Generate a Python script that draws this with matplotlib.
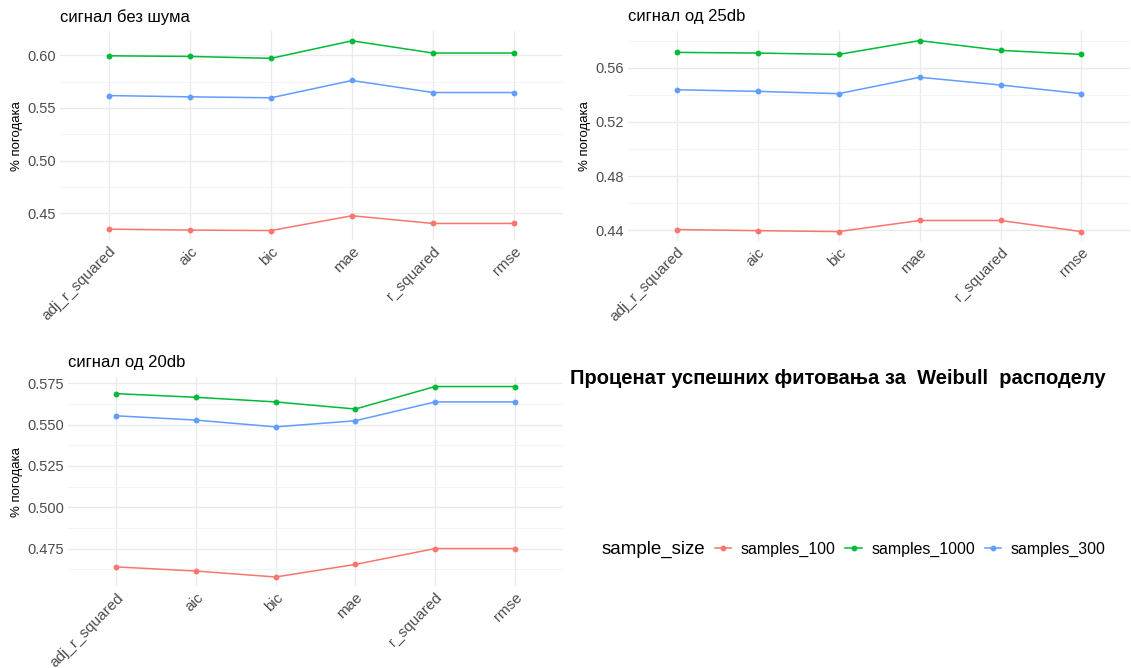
import numpy as np
import matplotlib
matplotlib.use('Agg')
import matplotlib.pyplot as plt
from matplotlib.lines import Line2D
from matplotlib.ticker import MultipleLocator

plt.rcParams['font.family'] = ['Liberation Sans', 'DejaVu Sans']

metrics = ['adj_r_squared', 'aic', 'bic', 'mae', 'r_squared', 'rmse']
series_names = ['samples_100', 'samples_1000', 'samples_300']
colors = ['#F8766D', '#00BA38', '#619CFF']

# сигнал без шума
clean_100 = [0.4351, 0.4342, 0.4338, 0.4478, 0.4405, 0.4405]
clean_1000 = [0.5994, 0.5988, 0.5970, 0.6136, 0.6020, 0.6020]
clean_300 = [0.5617, 0.5605, 0.5596, 0.5760, 0.5646, 0.5646]

# сигнал од 25db
db25_100 = [0.4405, 0.4397, 0.4390, 0.4472, 0.4472, 0.4390]
db25_1000 = [0.5714, 0.5709, 0.5699, 0.5801, 0.5729, 0.5699]
db25_300 = [0.5438, 0.5426, 0.5409, 0.5530, 0.5473, 0.5409]

# сигнал од 20db
db20_100 = [0.4639, 0.4614, 0.4578, 0.4654, 0.4750, 0.4750]
db20_1000 = [0.5687, 0.5665, 0.5637, 0.5594, 0.5730, 0.5730]
db20_300 = [0.5553, 0.5527, 0.5486, 0.5523, 0.5637, 0.5637]

panels = [
    ('сигнал без шума', [clean_100, clean_1000, clean_300], 0.05, '%.2f',
     [0.0534, 0.6407, 0.4440, 0.3124]),
    ('сигнал од 25db', [db25_100, db25_1000, db25_300], 0.04, '%.2f',
     [0.5555, 0.6390, 0.4436, 0.3145]),
    ('сигнал од 20db', [db20_100, db20_1000, db20_300], 0.025, '%.3f',
     [0.0604, 0.1220, 0.4371, 0.3136]),
]

fig = plt.figure(figsize=(11.31, 6.68), dpi=100)

for title, data, step, fmt, pos in panels:
    ax = fig.add_axes(pos)
    x = np.arange(len(metrics))
    for vals, c in zip(data, colors):
        ax.plot(x, vals, color=c, lw=1.1, marker='o', ms=3.2, zorder=3)
    allv = np.concatenate(data)
    lo, hi = allv.min(), allv.max()
    pad = (hi - lo) * 0.05
    ax.set_ylim(lo - pad, hi + pad)
    ax.set_xlim(-0.6, len(metrics) - 0.4)
    ax.yaxis.set_major_locator(MultipleLocator(step))
    ax.yaxis.set_minor_locator(MultipleLocator(step / 2))
    ax.yaxis.set_major_formatter(plt.FormatStrFormatter(fmt))
    ax.set_xticks(x)
    ax.set_xticklabels(metrics, rotation=45, ha='right', rotation_mode='anchor')
    ax.grid(which='major', color='#EBEBEB', lw=1.0)
    ax.grid(which='minor', axis='y', color='#F2F2F2', lw=0.6)
    ax.set_axisbelow(True)
    for s in ax.spines.values():
        s.set_visible(False)
    ax.tick_params(which='both', length=0, labelsize=10.5, labelcolor='#4D4D4D', pad=3)
    ax.tick_params(axis='x', labelsize=11)
    ax.set_ylabel('% погодака', fontsize=9.5, labelpad=3)
    ax.set_title(title, loc='left', fontsize=12, pad=7)

fig.text(0.5040, 0.434, 'Проценат успешних фитовања за  Weibull  расподелу',
         fontsize=14.5, fontweight='bold', va='center', ha='left')

fig.text(0.532, 0.178, 'sample_size', fontsize=13.5, va='center', ha='left')
handles = [Line2D([], [], color=c, lw=1.1, marker='o', ms=3.2) for c in colors]
fig.legend(handles, series_names, loc='center left', bbox_to_anchor=(0.632, 0.178),
           ncol=3, frameon=False, fontsize=11.4, handlelength=1.05,
           handletextpad=0.6, columnspacing=0.6, borderaxespad=0, borderpad=0)

fig.savefig('out.png', dpi=100, facecolor='white')
